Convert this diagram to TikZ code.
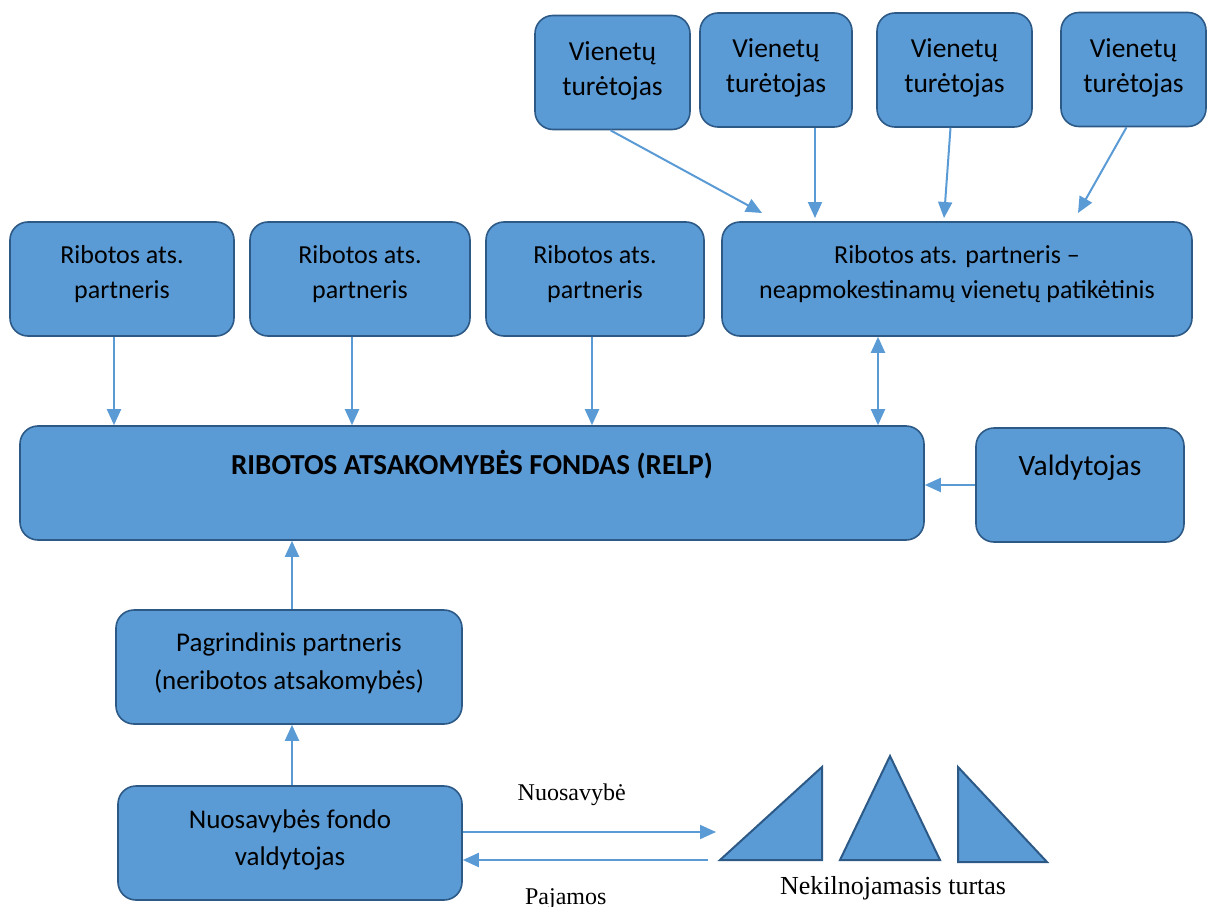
\documentclass[tikz,border=0pt]{standalone}
\usepackage{fontspec}
\setmainfont{Liberation Serif}
\newfontfamily\calibri{Carlito}
\usetikzlibrary{arrows.meta}
\begin{document}
\begin{tikzpicture}[x=1pt, y=-1pt,
    box/.style={draw=box-line, fill=box-fill, line width=1.6pt, rounded corners=18pt,
      minimum height=114pt, inner sep=0pt, align=center,
      font=\calibri\fontsize{26}{35}\selectfont},
    holder/.style={box, font=\calibri\fontsize{27.5}{35}\selectfont},
    flow/.style={draw=box-fill, line width=2pt, -{Triangle[length=16pt,width=14pt]}},
    flow2/.style={flow, {Triangle[length=16pt,width=14pt]}-{Triangle[length=16pt,width=14pt]}},
    asset/.style={draw=box-line, fill=box-fill, line width=2pt, line join=miter}]
    \definecolor{box-fill}{HTML}{5B9BD5}
    \definecolor{box-line}{HTML}{2C5986}
    \useasboundingbox (0,0) rectangle (1208,907);
    % unit holders
    \node[holder, minimum width=155pt] (v1) at (612.5,72.5) {Vienetų\\turėtojas\\[-27pt]};
    \node[holder, minimum width=152pt] (v2) at (776,70) {Vienetų\\turėtojas\\[-27pt]};
    \node[holder, minimum width=155pt] (v3) at (954.5,70) {Vienetų\\turėtojas\\[-27pt]};
    \node[holder, minimum width=145pt] (v4) at (1133.5,69.5) {Vienetų\\turėtojas\\[-27pt]};
    % limited partners
    \node[box, minimum width=224pt] (r1) at (122,279) {Ribotos ats.\\partneris\\[-21pt]};
    \node[box, minimum width=220pt] (r2) at (360,279) {Ribotos ats.\\partneris\\[-21pt]};
    \node[box, minimum width=218pt] (r3) at (595,279) {Ribotos ats.\\partneris\\[-21pt]};
    \node[box, minimum width=470pt] (r4) at (957,279) {Ribotos ats. partneris –\\neapmokestinamų vienetų patikėtinis\\[-21pt]};
    % fund
    \node[box, minimum width=904pt, font=\calibri\fontsize{29}{35}\selectfont] (relp) at (472,483) {\bfseries RIBOTOS ATSAKOMYBĖS FONDAS (RELP)\\[6pt]};
    \node[box, minimum width=208pt, font=\calibri\fontsize{29.5}{35}\selectfont] (valdyt) at (1080,485) {Valdytojas\\[4pt]};
    \node[box, minimum width=346pt, font=\calibri\fontsize{27}{38}\selectfont] (pagr) at (289,667) {Pagrindinis partneris\\(neribotos atsakomybės)\\[-26pt]};
    \node[box, minimum width=344pt, font=\calibri\fontsize{27}{37}\selectfont] (nfv) at (290,843) {Nuosavybės fondo\\valdytojas\\[-26pt]};
    % real estate
    \draw[asset] (720,860) -- (822,860) -- (822,767) -- cycle;
    \draw[asset] (840,860) -- (940,860) -- (890,756) -- cycle;
    \draw[asset] (958,767) -- (958,862) -- (1047,862) -- cycle;
    \node[font=\fontsize{26}{30}\selectfont] (turtas) at (893,888) {Nekilnojamasis turtas};
    \coordinate (in1) at (762,213);
    \coordinate (in2) at (815,218);
    \coordinate (in3) at (944,218);
    \coordinate (in4) at (1078,213);
    \coordinate (nuos) at (716,832);
    \coordinate (paj) at (708,860);
    \draw[flow] ([xshift=-2pt]v1.south) -- (in1);
    \draw[flow] (v2.south -| in2) -- (in2);
    \draw[flow] ([xshift=-4pt]v3.south) -- (in3);
    \draw[flow] ([xshift=-7pt]v4.south) -- (in4);
    \draw[flow] ([xshift=-8pt]r1.south) -- ([xshift=-8pt]r1.south |- relp.north);
    \draw[flow] ([xshift=-8pt]r2.south) -- ([xshift=-8pt]r2.south |- relp.north);
    \draw[flow] ([xshift=-3pt]r3.south) -- ([xshift=-3pt]r3.south |- relp.north);
    \draw[flow2] ([xshift=-79pt]r4.south) -- ([xshift=-79pt]r4.south |- relp.north);
    \draw[flow] (valdyt.west) -- (valdyt.west -| relp.east);
    \draw[flow] ([xshift=3pt]pagr.north) -- ([xshift=3pt]pagr.north |- relp.south);
    \draw[flow] ([xshift=2pt]nfv.north) -- ([xshift=2pt]nfv.north |- pagr.south);
    \draw[flow] (nfv.east |- nuos) -- (nuos) node[pos=0.43, above=22pt, font=\fontsize{24}{26}\selectfont] {Nuosavybė};
    \draw[flow] (paj) -- (paj -| nfv.east) node[pos=0.58, below=24pt, font=\fontsize{24}{26}\selectfont] {Pajamos};
\end{tikzpicture}
\end{document}
